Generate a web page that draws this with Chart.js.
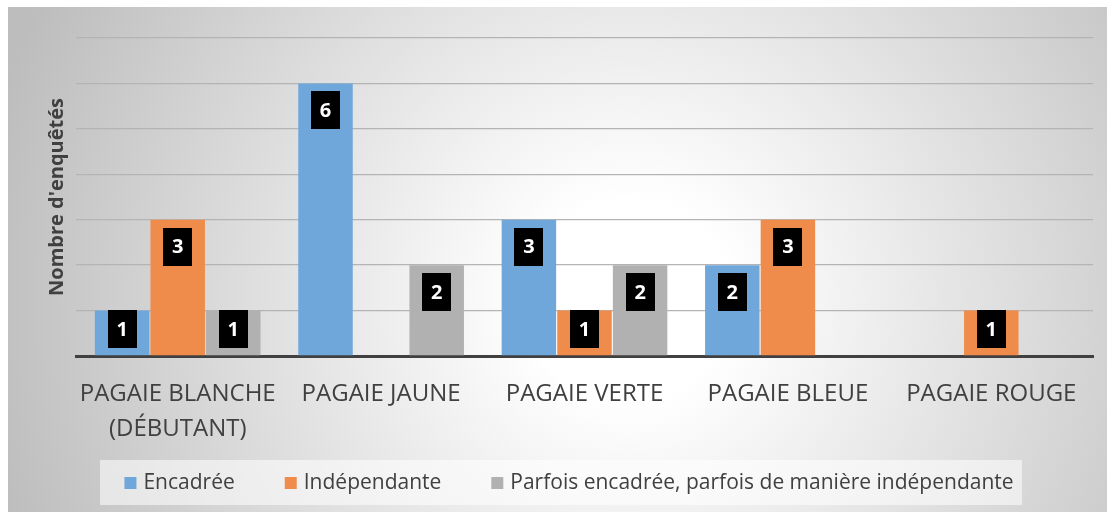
<!DOCTYPE html>
<html>
<head>
<meta charset="utf-8">
<script src="https://cdn.jsdelivr.net/npm/chart.js@4"></script>
<style>
  html, body { margin: 0; padding: 0; background: #fff; }
  #wrap { width: 1115px; height: 517px; }
</style>
</head>
<body>
<div id="wrap"><canvas id="chart" width="1115" height="517"></canvas></div>
<script>
// ===== data =====
const categories = [["PAGAIE BLANCHE", "(DÉBUTANT)"], "PAGAIE JAUNE", "PAGAIE VERTE", "PAGAIE BLEUE", "PAGAIE ROUGE"];
const seriesNames = ["Encadrée", "Indépendante", "Parfois encadrée, parfois de manière indépendante"];
const encadree = [1, 6, 3, 2, 0];
const independante = [3, 0, 1, 3, 1];
const parfois = [1, 2, 2, 0, 0];
const yMin = 0;
const yMax = 7;

const colors = ["#70a7db", "#ef8c4c", "#b1b1b1"];
const textColor = "#404040";

// ===== background (radial grey) =====
const bgPlugin = {
    id: "bg",
    beforeDraw(chart) {
        const ctx = chart.ctx;
        ctx.save();
        ctx.fillStyle = "#fff";
        ctx.fillRect(0, 0, chart.width, chart.height);
        const g = ctx.createRadialGradient(630, 300, 0, 630, 300, 660);
        g.addColorStop(0, "#ffffff");
        g.addColorStop(0.15, "#ffffff");
        g.addColorStop(1, "#bdbdbd");
        ctx.fillStyle = g;
        ctx.fillRect(8, 7, 1099, 505);
        ctx.restore();
    }
};

// ===== value labels in black boxes =====
const labelPlugin = {
    id: "valueBoxes",
    afterDatasetsDraw(chart) {
        const ctx = chart.ctx;
        ctx.save();
        chart.data.datasets.forEach((ds, di) => {
            const meta = chart.getDatasetMeta(di);
            meta.data.forEach((bar, i) => {
                const v = ds.data[i];
                if (!v) return;
                const w = 29, h = 38;
                const top = Math.min(bar.y + 8, bar.base - 7 - h);
                ctx.fillStyle = "#000";
                ctx.fillRect(Math.round(bar.x - w / 2), Math.round(top), w, h);
                ctx.fillStyle = "#fff";
                ctx.font = "bold 20px 'Open Sans'";
                ctx.textAlign = "center";
                ctx.textBaseline = "middle";
                ctx.fillText(String(v), bar.x, top + h / 2 + 1);
            });
        });
        ctx.restore();
    }
};

// ===== legend band at the bottom =====
const legendPlugin = {
    id: "bandLegend",
    afterDraw(chart) {
        const ctx = chart.ctx;
        ctx.save();
        ctx.fillStyle = "rgba(255,255,255,0.55)";
        ctx.fillRect(100, 460, 922, 45);
        ctx.font = "21px 'Open Sans'";
        const box = 12, gapText = 7, gapItem = 50;
        const widths = chart.data.datasets.map(ds => box + gapText + ctx.measureText(ds.label).width);
        const total = widths.reduce((a, b) => a + b, 0) + gapItem * (widths.length - 1);
        let x = 569 - total / 2;
        const y = 483;
        chart.data.datasets.forEach((ds, i) => {
            ctx.fillStyle = ds.backgroundColor;
            ctx.fillRect(x, y - box / 2, box, box);
            ctx.fillStyle = textColor;
            ctx.textAlign = "left";
            ctx.textBaseline = "middle";
            ctx.fillText(ds.label, x + box + gapText, y);
            x += widths[i] + gapItem;
        });
        ctx.restore();
    }
};

const ctx = document.getElementById("chart").getContext("2d");
new Chart(ctx, {
    type: "bar",
    data: {
        labels: categories,
        datasets: [
            { label: seriesNames[0], data: encadree, backgroundColor: colors[0] },
            { label: seriesNames[1], data: independante, backgroundColor: colors[1] },
            { label: seriesNames[2], data: parfois, backgroundColor: colors[2] }
        ]
    },
    options: {
        responsive: false,
        animation: false,
        layout: { padding: { left: 0, right: 22, top: 38, bottom: 0 } },
        datasets: {
            bar: { categoryPercentage: 0.82, barPercentage: 0.98 }
        },
        plugins: {
            legend: { display: false },
            tooltip: { enabled: false }
        },
        scales: {
            x: {
                grid: { display: false },
                border: { display: true, color: "#404040", width: 3 },
                ticks: {
                    color: textColor,
                    font: { family: "'Open Sans'", size: 24, lineHeight: 1.45 },
                    padding: 13,
                    maxRotation: 0,
                    autoSkip: false
                },
                afterFit(scale) { scale.height = 161; }
            },
            y: {
                min: yMin,
                max: yMax,
                ticks: { display: false, stepSize: 1 },
                grid: { color: "#b4b4b4", lineWidth: 1.3, drawTicks: false },
                border: { display: false },
                title: {
                    display: true,
                    text: "Nombre d'enquêtés",
                    color: textColor,
                    font: { family: "'Open Sans'", size: 20, weight: "bold" },
                    padding: { top: 45 }
                },
                afterFit(scale) { scale.width = 76; }
            }
        }
    },
    plugins: [bgPlugin, labelPlugin, legendPlugin]
});
</script>
</body>
</html>
